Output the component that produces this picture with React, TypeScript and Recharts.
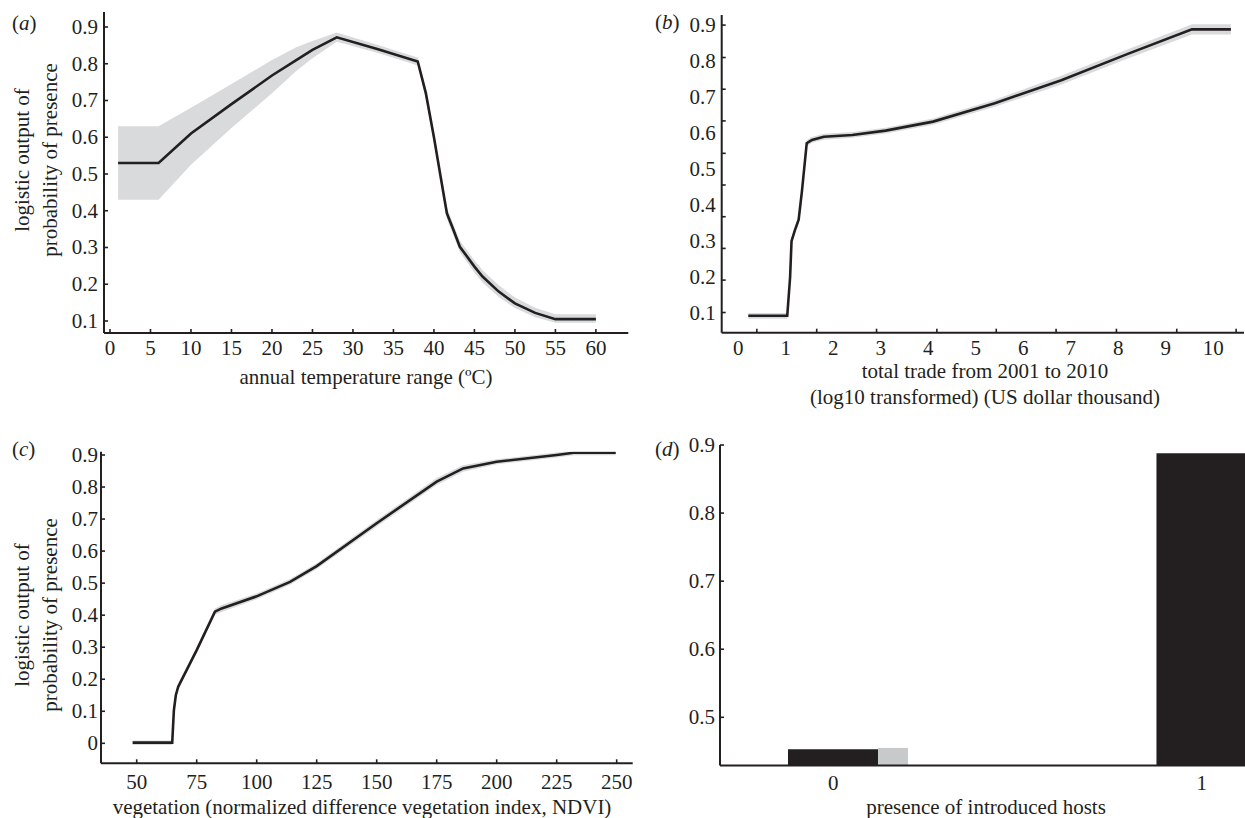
import React from "react";
import { ComposedChart, Area, Line, XAxis, YAxis, BarChart, Bar } from "recharts";

const INK = "#231f20";
const BAND = "#d9dadc";
const BAR_GREY = "#c8c9cb";
const FONT = '"Liberation Serif", "Times New Roman", serif';
const FS = 21;

// (a) annual temperature range
const tempX = [1, 6, 10, 15, 20, 23, 25, 28, 33, 38, 39, 40, 41, 41.6, 42.4, 43.2, 45, 46, 48, 50, 52.5, 55, 60];
const tempMean = [0.53, 0.53, 0.61, 0.69, 0.768, 0.81, 0.838, 0.872, 0.84, 0.806, 0.72, 0.6, 0.47, 0.393, 0.348, 0.302, 0.248, 0.221, 0.18, 0.148, 0.122, 0.105, 0.105];
const tempLow = [0.43, 0.43, 0.525, 0.625, 0.72, 0.78, 0.815, 0.86, 0.83, 0.795, 0.705, 0.585, 0.455, 0.378, 0.333, 0.287, 0.232, 0.205, 0.165, 0.135, 0.11, 0.095, 0.095];
const tempHigh = [0.63, 0.63, 0.68, 0.745, 0.81, 0.845, 0.862, 0.885, 0.852, 0.817, 0.735, 0.615, 0.485, 0.408, 0.363, 0.318, 0.265, 0.238, 0.197, 0.164, 0.136, 0.118, 0.118];
const tempXTicks = [0, 5, 10, 15, 20, 25, 30, 35, 40, 45, 50, 55, 60];
const tempYTicks = [0.1, 0.2, 0.3, 0.4, 0.5, 0.6, 0.7, 0.8, 0.9];

// (b) total trade (log10)
const tradeX = [0.21, 1.03, 1.09, 1.12, 1.19, 1.27, 1.34, 1.44, 1.55, 1.8, 2.4, 3.1, 4.1, 5.4, 6.8, 8.2, 9.55, 10.37];
const tradeMean = [0.093, 0.093, 0.2, 0.3, 0.33, 0.36, 0.44, 0.572, 0.581, 0.59, 0.595, 0.607, 0.632, 0.683, 0.747, 0.82, 0.888, 0.888];
const tradeLow = [0.085, 0.085, 0.19, 0.29, 0.32, 0.35, 0.43, 0.563, 0.573, 0.582, 0.587, 0.599, 0.623, 0.673, 0.735, 0.807, 0.874, 0.874];
const tradeHigh = [0.101, 0.101, 0.21, 0.31, 0.34, 0.37, 0.45, 0.581, 0.589, 0.598, 0.603, 0.615, 0.641, 0.693, 0.759, 0.833, 0.902, 0.902];
const tradeXLabels = [0, 1, 2, 3, 4, 5, 6, 7, 8, 9, 10];
const tradeXMarks = [0.39, 1.65, 2.91, 4.18, 5.43, 6.69, 7.96, 9.23, 10.48];
const tradeYLabels = [0.1, 0.2, 0.3, 0.4, 0.5, 0.6, 0.7, 0.8, 0.9];
const tradeYMarks = [0.102, 0.192, 0.28, 0.368, 0.456, 0.544, 0.634, 0.722, 0.81, 0.9];

// (c) NDVI
const ndviX = [48.3, 64.8, 65.5, 66.3, 67.3, 75, 82.6, 85.4, 99.7, 113.9, 125, 150, 175, 186, 200, 225, 232, 249.6];
const ndviMean = [0.002, 0.002, 0.104, 0.15, 0.177, 0.291, 0.411, 0.421, 0.458, 0.504, 0.553, 0.687, 0.817, 0.858, 0.879, 0.9, 0.907, 0.907];
const ndviLow = [-0.005, -0.005, 0.094, 0.14, 0.167, 0.281, 0.401, 0.41, 0.449, 0.495, 0.544, 0.677, 0.806, 0.848, 0.871, 0.892, 0.899, 0.899];
const ndviHigh = [0.009, 0.009, 0.114, 0.16, 0.187, 0.301, 0.421, 0.432, 0.467, 0.513, 0.562, 0.697, 0.828, 0.868, 0.887, 0.908, 0.915, 0.915];
const ndviXTicks = [50, 75, 100, 125, 150, 175, 200, 225, 250];
const ndviYTicks = [0, 0.1, 0.2, 0.3, 0.4, 0.5, 0.6, 0.7, 0.8, 0.9];

// (d) presence of introduced hosts
const hostLevels = [0, 1];
const hostResponse = [0.453, 0.888];
const hostSpread = [0.455, 0.89];
const hostYTicks = [0.5, 0.6, 0.7, 0.8, 0.9];

const zip = (xs: number[], mean: number[], low: number[], high: number[]) =>
  xs.map((x, i) => ({ x, mean: mean[i], band: [low[i], high[i]] }));

const union = (a: number[], b: number[]) => Array.from(new Set([...a, ...b])).sort((p, q) => p - q);

const fmt = (v: number) => (v === 0 ? "0" : Number.isInteger(v) ? String(v) : v.toFixed(1));

const txt = { fontSize: FS, fontFamily: FONT, fill: INK } as const;

const bottomTick = (labels: number[], marks: number[], gap: number, dx = 0) => (p: any) => {
  const v = p.payload.value;
  return (
    <g>
      {marks.includes(v) && <line x1={p.x} x2={p.x} y1={p.y} y2={p.y - 4} stroke={INK} strokeWidth={1.6} />}
      {labels.includes(v) && (
        <text x={p.x + dx} y={p.y + gap} textAnchor="middle" {...txt}>
          {fmt(v)}
        </text>
      )}
    </g>
  );
};

const leftTick = (labels: number[], marks: number[], gap: number) => (p: any) => {
  const v = p.payload.value;
  return (
    <g>
      {marks.includes(v) && <line x1={p.x} x2={p.x + 4} y1={p.y} y2={p.y} stroke={INK} strokeWidth={1.6} />}
      {labels.includes(v) && (
        <text x={p.x - gap} y={p.y + 7} textAnchor="end" {...txt}>
          {fmt(v)}
        </text>
      )}
    </g>
  );
};

// two-line rotated y title
const probTitle = (cy: number) => () => (
  <text transform={`rotate(-90 42.5 ${cy})`} x={42.5} y={cy} textAnchor="middle" {...txt}>
    <tspan x={42.5} dy={-14}>logistic output of</tspan>
    <tspan x={42.5} dy={28}>probability of presence</tspan>
  </text>
);

const xTitle = (lines: string[], cx: number, y0: number) => () => (
  <text textAnchor="middle" {...txt}>
    {lines.map((l, i) => (
      <tspan key={i} x={cx} y={y0 + i * 26}>
        {l}
      </tspan>
    ))}
  </text>
);

type Geom = { left: number; top: number; w: number; h: number; mt: number; mr: number; yW: number; xH: number };

function CurvePanel(props: {
  data: { x: number; mean: number; band: number[] }[];
  g: Geom;
  xDomain: [number, number];
  yDomain: [number, number];
  xLabels: number[];
  xMarks: number[];
  yLabels: number[];
  yMarks: number[];
  xGap: number;
  yGap: number;
  xLabel: () => React.ReactElement;
  yLabel?: () => React.ReactElement;
}) {
  const { data, g } = props;
  return (
    <div style={{ position: "absolute", left: g.left, top: g.top }}>
      <ComposedChart width={g.w} height={g.h} data={data} margin={{ top: g.mt, right: g.mr, bottom: 0, left: 0 }}>
        <XAxis
          type="number"
          dataKey="x"
          domain={props.xDomain}
          allowDataOverflow
          ticks={union(props.xLabels, props.xMarks)}
          interval={0}
          height={g.xH}
          tickSize={0}
          tickMargin={0}
          tickLine={false}
          axisLine={{ stroke: INK, strokeWidth: 2 }}
          tick={bottomTick(props.xLabels, props.xMarks, props.xGap)}
          label={props.xLabel}
        />
        <YAxis
          type="number"
          domain={props.yDomain}
          allowDataOverflow
          ticks={union(props.yLabels, props.yMarks)}
          interval={0}
          width={g.yW}
          tickSize={0}
          tickMargin={0}
          tickLine={false}
          axisLine={{ stroke: INK, strokeWidth: 2 }}
          tick={leftTick(props.yLabels, props.yMarks, props.yGap)}
          label={props.yLabel}
        />
        <Area type="linear" dataKey="band" stroke="none" fill={BAND} fillOpacity={1} isAnimationActive={false} />
        <Line type="linear" dataKey="mean" stroke={INK} strokeWidth={2.6} dot={false} isAnimationActive={false} />
      </ComposedChart>
    </div>
  );
}

function HostPanel() {
  const data = hostLevels.map((h, i) => ({ h, response: hostResponse[i], spread: hostSpread[i] }));
  return (
    <div style={{ position: "absolute", left: 640, top: 410 }}>
      <BarChart width={680} height={408} data={data} barGap={0} margin={{ top: 35, right: 29.6, bottom: 0, left: 0 }}>
        <XAxis
          type="number"
          dataKey="h"
          domain={[-0.348, 1.2]}
          allowDataOverflow
          ticks={hostLevels}
          interval={0}
          height={52.5}
          tickSize={0}
          tickMargin={0}
          tickLine={false}
          axisLine={{ stroke: INK, strokeWidth: 2 }}
          tick={bottomTick(hostLevels, [], 24, -15)}
          label={xTitle(["presence of introduced hosts"], 346, 404)}
        />
        <YAxis
          type="number"
          domain={[0.4292, 0.9]}
          allowDataOverflow
          ticks={hostYTicks}
          interval={0}
          width={80}
          tickSize={0}
          tickMargin={0}
          tickLine={false}
          axisLine={{ stroke: INK, strokeWidth: 2 }}
          tick={leftTick(hostYTicks, hostYTicks, 5)}
        />
        <Bar dataKey="response" fill={INK} barSize={90} isAnimationActive={false} />
        <Bar dataKey="spread" fill={BAR_GREY} barSize={30} isAnimationActive={false} />
      </BarChart>
    </div>
  );
}

const panelLetters = [
  { l: "a", x: 12, y: 29.5 },
  { l: "b", x: 655, y: 28.5 },
  { l: "c", x: 12, y: 456 },
  { l: "d", x: 655, y: 456 },
];

export default function App() {
  return (
    <div
      style={{
        position: "fixed",
        left: 0,
        top: 0,
        width: 1245,
        height: 818,
        overflow: "hidden",
        background: "#fff",
      }}
    >
      <CurvePanel
        data={zip(tempX, tempMean, tempLow, tempHigh)}
        g={{ left: 0, top: 0, w: 640, h: 410, mt: 12, mr: 11.7, yW: 104, xH: 77 }}
        xDomain={[-0.74, 64]}
        yDomain={[0.0673, 0.9408]}
        xLabels={tempXTicks}
        xMarks={tempXTicks}
        yLabels={tempYTicks}
        yMarks={tempYTicks}
        xGap={22}
        yGap={6}
        xLabel={xTitle(["annual temperature range (ºC)"], 366, 384)}
        yLabel={probTitle(160)}
      />
      <CurvePanel
        data={zip(tradeX, tradeMean, tradeLow, tradeHigh)}
        g={{ left: 640, top: 0, w: 605, h: 410, mt: 15, mr: 1, yW: 81.7, xH: 77.3 }}
        xDomain={[-0.35, 10.646]}
        yDomain={[0.046, 0.928]}
        xLabels={tradeXLabels}
        xMarks={tradeXMarks}
        yLabels={tradeYLabels}
        yMarks={tradeYMarks}
        xGap={22}
        yGap={6}
        xLabel={xTitle(["total trade from 2001 to 2010", "(log10 transformed) (US dollar thousand)"], 345, 378)}
      />
      <CurvePanel
        data={zip(ndviX, ndviMean, ndviLow, ndviHigh)}
        g={{ left: 0, top: 410, w: 640, h: 408, mt: 41.7, mr: 7.3, yW: 101, xH: 54.7 }}
        xDomain={[35.125, 256.67]}
        yDomain={[-0.0624, 0.9103]}
        xLabels={ndviXTicks}
        xMarks={ndviXTicks}
        yLabels={ndviYTicks}
        yMarks={ndviYTicks}
        xGap={26}
        yGap={3}
        xLabel={xTitle(["vegetation (normalized difference vegetation index, NDVI)"], 362, 404)}
        yLabel={probTitle(205)}
      />
      <HostPanel />
      <svg width={1245} height={818} style={{ position: "absolute", left: 0, top: 0, pointerEvents: "none" }}>
        {panelLetters.map((p) => (
          <text key={p.l} x={p.x} y={p.y} {...txt}>
            (<tspan fontStyle="italic">{p.l}</tspan>)
          </text>
        ))}
      </svg>
    </div>
  );
}
